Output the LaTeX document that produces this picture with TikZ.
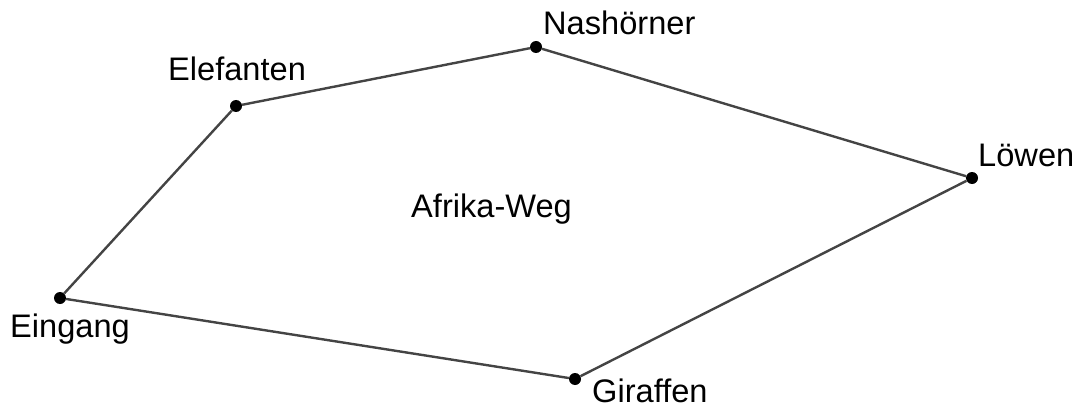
\documentclass[tikz,border=0pt]{standalone}
\usepackage{fontspec}
\setmainfont{Liberation Sans}
\definecolor{wegline}{HTML}{444444}
\begin{document}
\begin{tikzpicture}[x=1pt, y=-1pt]
    % Define styles
    \tikzset{
        station/.style={circle, fill=black, inner sep=0pt, minimum size=12pt},
        weg/.style={draw=wegline, line width=2.4pt},
        stationlabel/.style={anchor=base west, inner sep=0pt, font=\fontsize{32.6}{38}\selectfont}
    }
    \useasboundingbox (0,0) rectangle (1081,409);

    % Stations
    \node[station] (eingang) at (60,298) {};
    \node[station] (elefanten) at (236,106) {};
    \node[station] (nashoerner) at (536,47) {};
    \node[station] (loewen) at (972,178) {};
    \node[station] (giraffen) at (575,379) {};

    % Path
    \draw[weg] (eingang) -- (elefanten) -- (nashoerner) -- (loewen) -- (giraffen) -- (eingang);

    % Labels
    \node[stationlabel] (leingang) at (10,337) {Eingang};
    \node[stationlabel] (lelefanten) at (168,81) {Elefanten};
    \node[stationlabel] (lnashoerner) at (543,35) {Nashörner};
    \node[stationlabel] (lloewen) at (978,166) {Löwen};
    \node[stationlabel] (lgiraffen) at (592,402) {Giraffen};
    \node[stationlabel] (lweg) at (411,217) {Afrika-Weg};
\end{tikzpicture}
\end{document}
